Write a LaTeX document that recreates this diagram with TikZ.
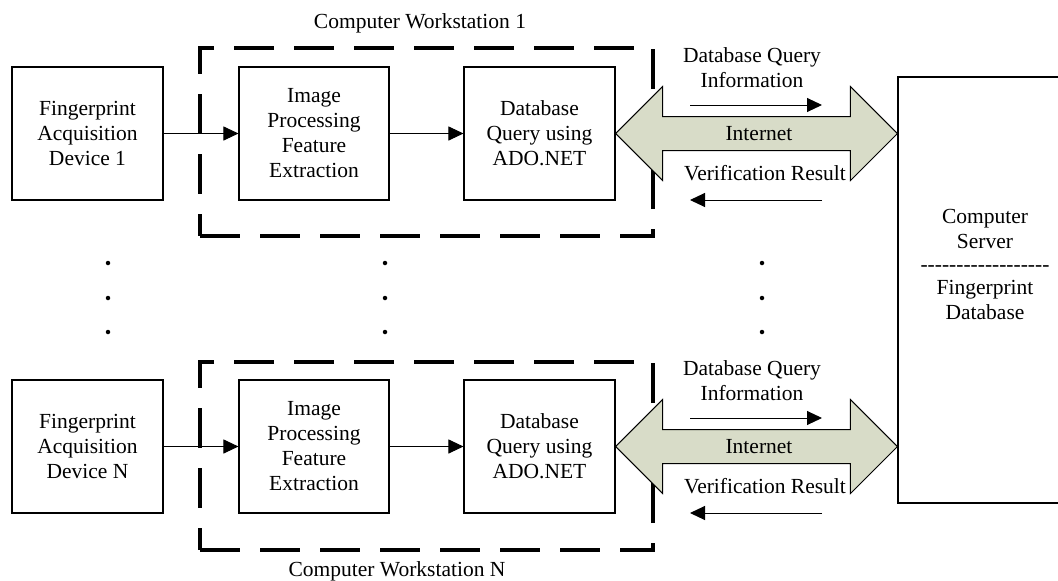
\documentclass[tikz,border=0pt]{standalone}
\usepackage{fontspec}
\setmainfont{Liberation Serif}
\usetikzlibrary{arrows.meta,calc}
\definecolor{netfill}{RGB}{216,220,200}
\newcommand\hy{-\kern0pt}
\begin{document}
\begin{tikzpicture}[x=1pt,y=-1pt,
  every node/.style={font=\fontsize{21.5}{25}\selectfont, inner sep=0pt},
  blk/.style={draw, line width=1.1pt, minimum width=151pt, minimum height=133pt, align=center},
  frame/.style={draw, line width=3.5pt, dash pattern=on 40pt off 20pt, minimum width=453pt, minimum height=188pt},
  lbl/.style={align=center},
  flow/.style={line width=1pt, -{Triangle[length=15pt,width=14pt]}},
  net/.style={draw, line width=1pt, fill=netfill, line join=miter},
  dotm/.style={circle, fill, minimum size=4.5pt, inner sep=0pt}
]
\useasboundingbox (0,0) rectangle (1058,581);
\clip (0,0) rectangle (1058,581);
\fill[white] (0,0) rectangle (1058,581);

% workstation frames
\node[frame] (ws1) at (426.5,142) {};
\node[frame] (wsN) at (426.5,456) {};
\node (ws1lbl) at (420,23) {Computer Workstation 1};
\node (wsNlbl) at (397,571) {Computer Workstation N};

% top row
\node[blk] (dev1) at (87.5,133.5) {Fingerprint\\Acquisition\\Device 1};
\node[blk, minimum width=150pt] (img1) at (314,133.5) {Image\\Processing\\Feature\\Extraction};
\node[blk] (db1) at (539.5,133.5) {Database\\Query using\\ADO.NET};
% bottom row
\node[blk] (devN) at (87.5,446.5) {Fingerprint\\Acquisition\\Device N};
\node[blk, minimum width=150pt] (imgN) at (314,446.5) {Image\\Processing\\Feature\\Extraction};
\node[blk] (dbN) at (539.5,446.5) {Database\\Query using\\ADO.NET};

% server
\node[draw, line width=1.1pt, minimum width=174pt, minimum height=426pt] (srv) at (985,290) {};
\node[lbl] (srvtxt) at (985,264) {Computer\\Server\\[-2pt]\hy\hy\hy\hy\hy\hy\hy\hy\hy\hy\hy\hy\hy\hy\hy\hy\hy\hy\\[-2pt]Fingerprint\\Database};

% flow arrows
\draw[flow] (dev1) -- (img1);
\draw[flow] (img1) -- (db1);
\draw[flow] (devN) -- (imgN);
\draw[flow] (imgN) -- (dbN);

% internet double arrows
\foreach \d in {1,N}{
  \draw[net] (db\d.east) -- ++(47,-47) -- ++(0,30) -- ($(srv.west|-db\d.east)+(-47,-17)$) -- ++(0,-30)
    -- (srv.west|-db\d.east) -- ++(-47,47) -- ++(0,-30) -- ($(db\d.east)+(47,17)$) -- ++(0,30) -- cycle;
}
\node (inet1) at (759,134) {Internet};
\node (inetN) at (759,447) {Internet};

% query / result labels and arrows
\node[lbl] (q1) at (752,68) {Database Query\\Information};
\node[lbl] (qN) at (752,381) {Database Query\\Information};
\node (v1) at (765,173) {Verification Result};
\node (vN) at (765,486) {Verification Result};
\coordinate (qa1s) at (690,105); \coordinate (qa1e) at (822,105);
\coordinate (ra1s) at (822,200); \coordinate (ra1e) at (690,200);
\coordinate (qaNs) at (690,418); \coordinate (qaNe) at (822,418);
\coordinate (raNs) at (822,513); \coordinate (raNe) at (690,513);
\draw[flow] (qa1s) -- (qa1e);
\draw[flow] (ra1s) -- (ra1e);
\draw[flow] (qaNs) -- (qaNe);
\draw[flow] (raNs) -- (raNe);

% ellipsis dots
\foreach \x/\n in {108/a,385/b,762/c}{
  \node[dotm] (dot\n1) at (\x,263) {};
  \node[dotm] (dot\n2) at (\x,298) {};
  \node[dotm] (dot\n3) at (\x,332) {};
}
\end{tikzpicture}
\end{document}
